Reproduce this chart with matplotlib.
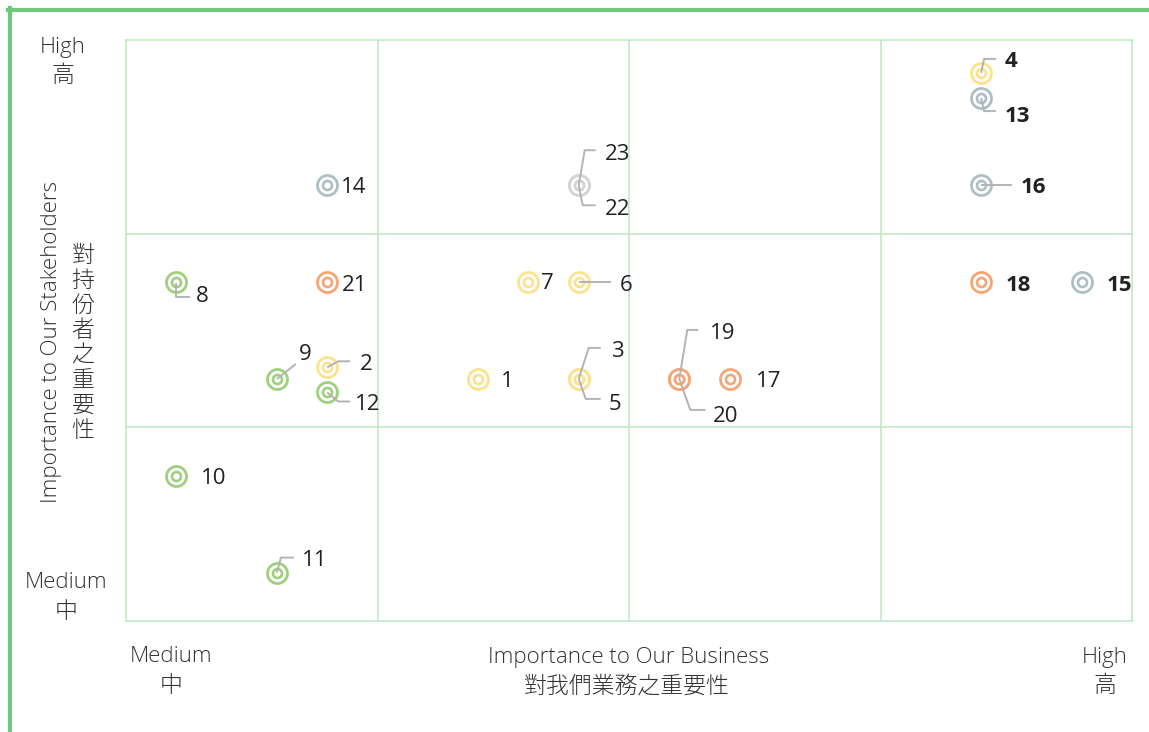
import matplotlib
matplotlib.use("Agg")
import matplotlib.pyplot as plt
from matplotlib.lines import Line2D

plt.rcParams['font.family'] = ['Open Sans', 'Noto Sans CJK JP', 'DejaVu Sans']

# ---- data ----
ids = [str(i) for i in range(1, 24)]
business = [1.4, 0.8, 1.8, 3.4, 1.8, 1.8, 1.6, 0.2, 0.6, 0.2, 0.6, 0.8,
            3.4, 0.8, 3.8, 3.4, 2.4, 3.4, 2.2, 2.2, 0.8, 1.8, 1.8]
stakeholders = [1.25, 1.31, 1.25, 2.83, 1.25, 1.75, 1.75, 1.75, 1.25, 0.75, 0.25, 1.18,
                2.70, 2.25, 1.75, 2.25, 1.25, 1.75, 1.25, 1.25, 1.75, 2.25, 2.25]
category = ['y', 'y', 'y', 'y', 'y', 'y', 'y', 'g', 'g', 'g', 'g', 'g',
            's', 's', 's', 's', 'o', 'o', 'o', 'o', 'o', 'l', 'l']
bold_ids = ['4', '13', '16', '18', '15']

colors = {'y': '#fde28e', 'g': '#9fd07e', 's': '#aebfc4', 'o': '#f4a677', 'l': '#d4d4d4'}

# label offsets in pixels (dx right, dy down) and leader polylines
label_off = {
    '1': (23, 1), '2': (33, -5), '3': (32, -29), '4': (24, -13), '5': (30, 24),
    '6': (41, 1), '7': (13, -1), '8': (20, 12), '9': (22, -26), '10': (25, 1),
    '11': (25, -14), '12': (28, 10), '13': (24, 16), '14': (14, 0), '15': (25, 1),
    '16': (40, 0), '17': (26, 1), '18': (25, 1), '19': (31, -47), '20': (34, 36),
    '21': (15, 1), '22': (26, 22), '23': (26, -33),
}
leaders = {
    '2': [(0, 0), (11, -6), (23, -6)],
    '3': [(0, 0), (10, -31), (22, -31)],
    '4': [(0, 0), (3, -14), (15, -14)],
    '5': [(0, 0), (7, 20), (22, 20)],
    '6': [(0, 0), (32, 0)],
    '8': [(0, 1), (0, 15), (14, 15)],
    '9': [(0, 0), (19, -15)],
    '11': [(0, 0), (4, -15), (17, -15)],
    '12': [(0, 0), (11, 9), (23, 9)],
    '13': [(0, 0), (3, 13), (15, 13)],
    '16': [(0, 0), (31, 0)],
    '19': [(0, 0), (8, -49), (19, -49)],
    '20': [(0, 0), (11, 31), (26, 31)],
    '22': [(0, 0), (4, 20), (17, 20)],
    '23': [(0, 0), (6, -35), (17, -35)],
}

W, H = 1149, 732
fig = plt.figure(figsize=(W / 100, H / 100), dpi=100)
L, R, T, B = 126, 1132, 40, 621
ax = fig.add_axes([L / W, 1 - B / H, (R - L) / W, (B - T) / H])
ax.set_xlim(0, 4)
ax.set_ylim(0, 3)
ax.set_xticks([])
ax.set_yticks([])
grid_c = '#c5e6c8'
for s in ax.spines.values():
    s.set_color(grid_c)
    s.set_linewidth(1.2)
for gx in [1, 2, 3]:
    ax.axvline(gx, color=grid_c, lw=1.2, zorder=0)
for gy in [1, 2]:
    ax.axhline(gy, color=grid_c, lw=1.2, zorder=0)

pxx = (R - L) / 4.0
pxy = (B - T) / 3.0

for i, x, y, c in zip(ids, business, stakeholders, category):
    col = colors[c]
    ax.scatter([x], [y], s=14.4 ** 2, facecolor='white', edgecolor=col, linewidth=2.0, zorder=3)
    ax.scatter([x], [y], s=6.5 ** 2, facecolor='white', edgecolor=col, linewidth=1.9, zorder=4)
    if i in leaders:
        pts = leaders[i]
        lx = [x + dx / pxx for dx, dy in pts]
        ly = [y - dy / pxy for dx, dy in pts]
        ax.plot(lx, ly, color='#b3b3b3', lw=1.4, zorder=5, solid_capstyle='butt')
    dx, dy = label_off[i]
    isb = i in bold_ids
    ax.text(x + dx / pxx, y - (dy + 2) / pxy, i, fontsize=16,
            fontweight='bold' if isb else 'normal',
            color='#222222', ha='left', va='center', zorder=6)

def ftext(px, py, s, **kw):
    fig.text(px / W, 1 - py / H, s, **kw)

tc = '#333333'
fs = 16
cfs = 16.5
ekw = dict(ha='center', va='center', color=tc, fontweight='light', fontsize=fs)
ckw = dict(ha='center', va='center', color=tc, fontweight=300, fontsize=cfs,
           family=['Noto Sans CJK JP', 'DejaVu Sans'])
ftext(63, 48, 'High', **ekw)
ftext(63, 76, '高', **ckw)
ftext(66, 583, 'Medium', **ekw)
ftext(66, 611, '中', **ckw)
ftext(171, 657, 'Medium', **ekw)
ftext(171, 686, '中', **ckw)
ftext(629, 657, 'Importance to Our Business', **ekw)
ftext(627, 686, '對我們業務之重要性', **ckw)
ftext(1105, 657, 'High', **ekw)
ftext(1105, 686, '高', **ckw)
ftext(52, 342, 'Importance to Our Stakeholders', rotation=90, **ekw)
ftext(83, 343, '\n'.join('對持份者之重要性'), linespacing=1.0, **ckw)

# outer green frame (top and left)
green = '#6fc97d'
fig.add_artist(Line2D([8 / W, 1.0], [1 - 10 / H, 1 - 10 / H], color=green, lw=3.0,
                      transform=fig.transFigure))
fig.add_artist(Line2D([10 / W, 10 / W], [1 - 8 / H, 0.0], color=green, lw=3.0,
                      transform=fig.transFigure))

fig.savefig('out.png', dpi=100)
